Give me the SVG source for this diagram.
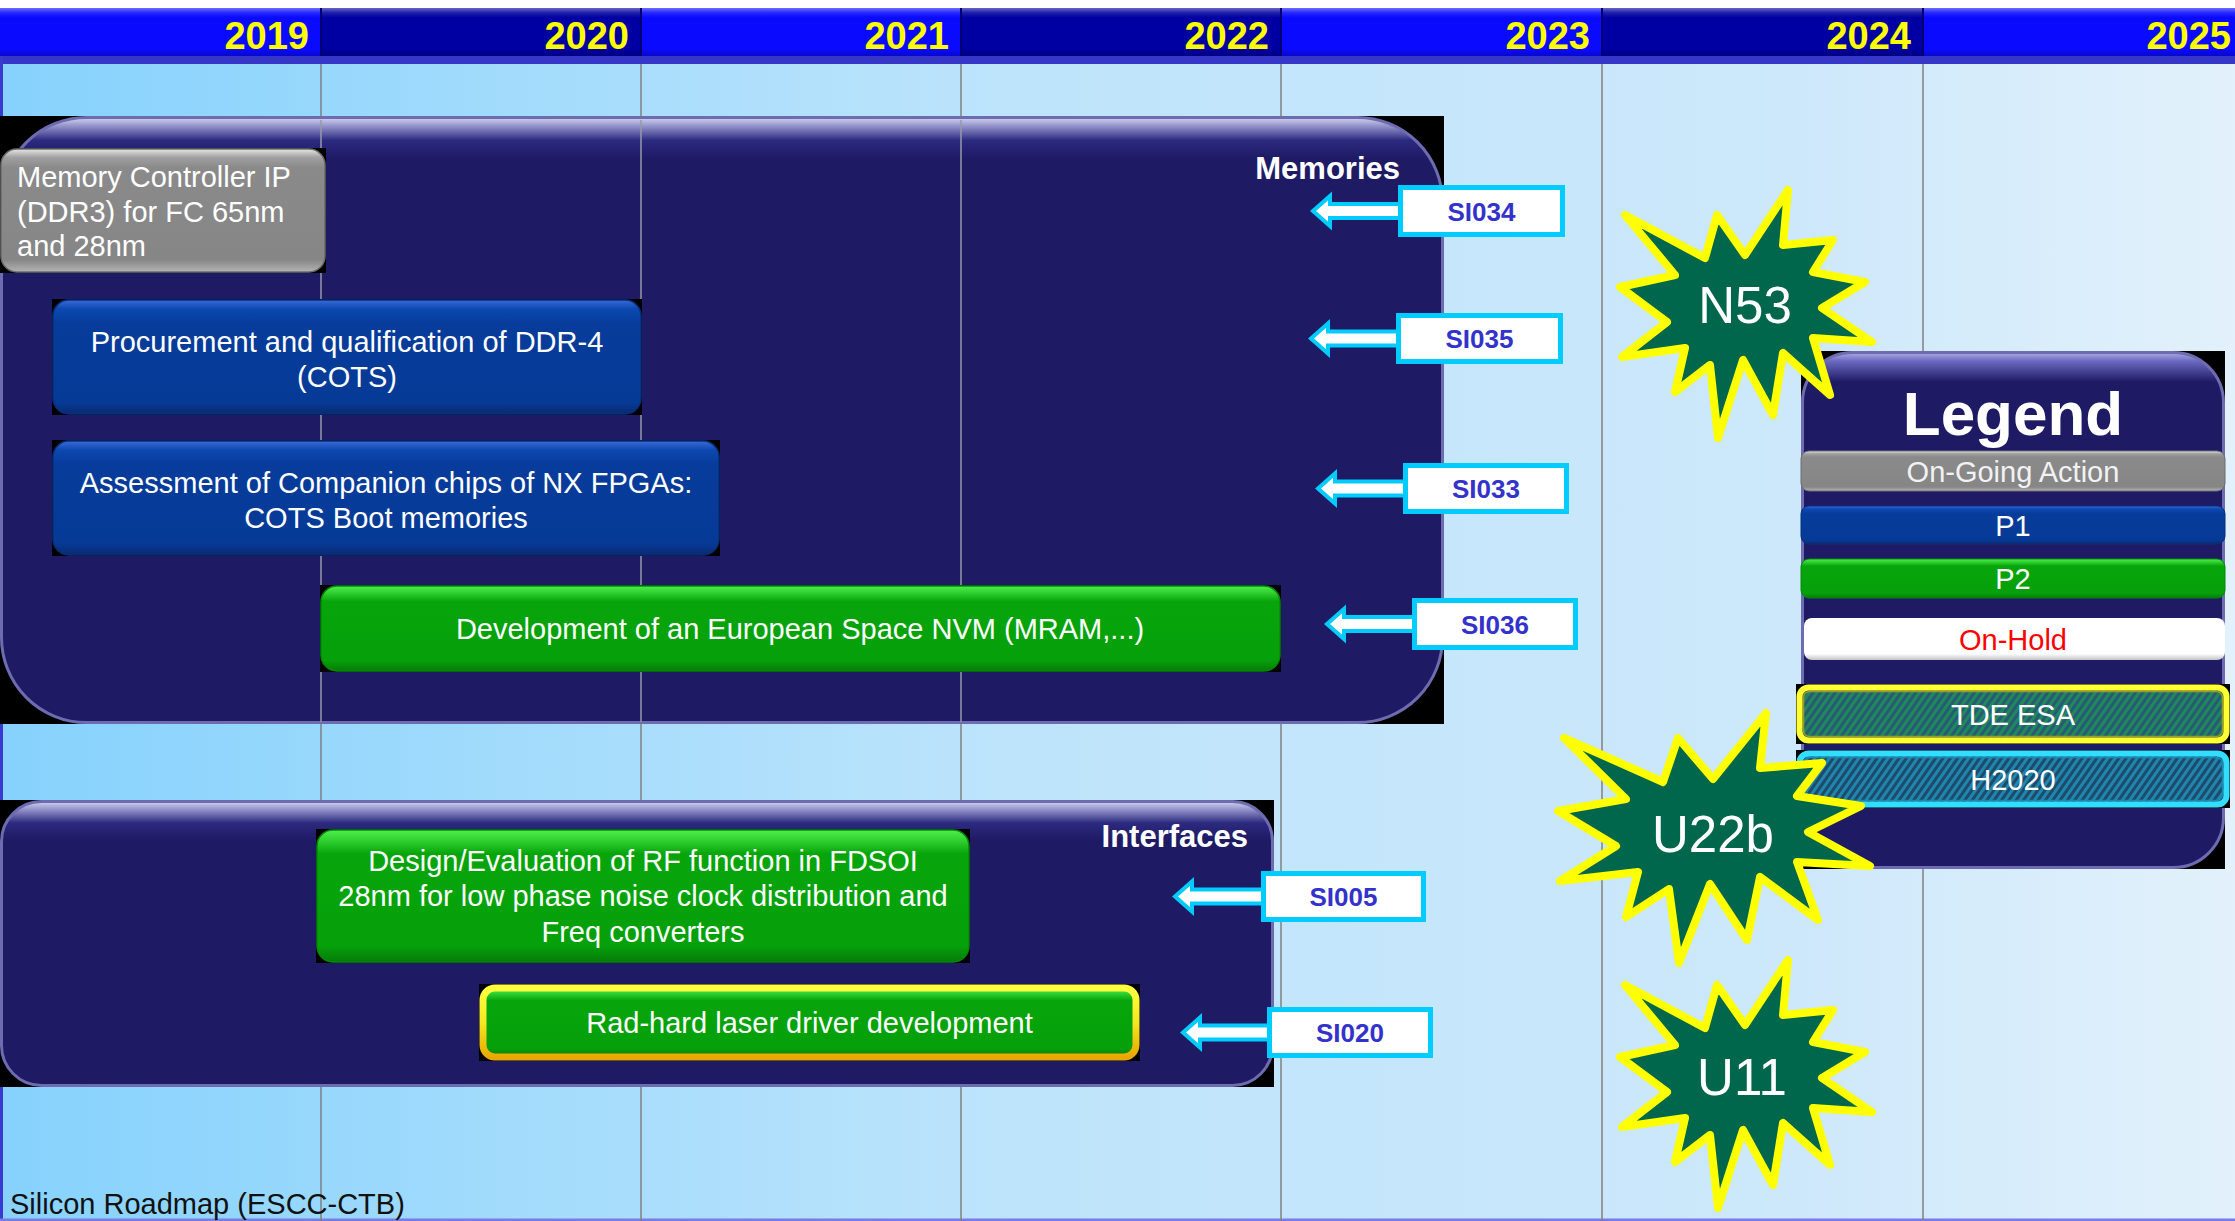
<svg xmlns="http://www.w3.org/2000/svg" width="2235" height="1221" viewBox="0 0 2235 1221">
<style>
  text { font-family: "Liberation Sans", Arial, Helvetica, sans-serif; }
  .yr { font-size: 38px; font-weight: bold; fill: #ffff00; text-anchor: end; }
  .grid { stroke: #808080; stroke-width: 1.5; }
  .gridIn { stroke: #9898aa; stroke-width: 1.5; }
  .bx { font-size: 29px; fill: #ffffff; }
  .c { text-anchor: middle; }
  .sect { font-size: 31px; font-weight: bold; fill: #ffffff; text-anchor: end; }
  .lbl { fill: #ffffff; stroke: #00ccff; stroke-width: 5; }
  .lblt { font-size: 26px; font-weight: bold; fill: #3333cc; text-anchor: middle; }
  .arr { fill: #ffffff; stroke: #00ccff; stroke-width: 4; stroke-linejoin: miter; }
  .star { fill: #00664c; stroke: #ffff00; stroke-width: 8; stroke-linejoin: round; }
  .startxt { font-size: 51px; fill: #ffffff; text-anchor: middle; }
  .bk { fill: #000000; }
  .panelEdge { stroke: #6e6cb0; stroke-width: 3; }
  .cellB { fill: #0a0aff; }
  .cellD { fill: #0000a2; }
  .leg { font-size: 29px; text-anchor: middle; }
</style>
<defs>
  <linearGradient id="bgGrad" x1="0" y1="0" x2="2235" y2="0" gradientUnits="userSpaceOnUse">
    <stop offset="0" stop-color="#86d2fd"/>
    <stop offset="0.45" stop-color="#bde4fb"/>
    <stop offset="0.8" stop-color="#cde8fb"/>
    <stop offset="1" stop-color="#e2f1fb"/>
  </linearGradient>
  <linearGradient id="hdrShade" x1="0" y1="8" x2="0" y2="56" gradientUnits="userSpaceOnUse">
    <stop offset="0" stop-color="#ffffff" stop-opacity="0.4"/>
    <stop offset="0.1" stop-color="#ffffff" stop-opacity="0.12"/>
    <stop offset="0.2" stop-color="#ffffff" stop-opacity="0"/>
    <stop offset="0.85" stop-color="#000000" stop-opacity="0"/>
    <stop offset="1" stop-color="#000000" stop-opacity="0.2"/>
  </linearGradient>
  <linearGradient id="memFill" x1="0" y1="116" x2="0" y2="724" gradientUnits="userSpaceOnUse">
    <stop offset="0" stop-color="#e0e0f4"/>
    <stop offset="0.015" stop-color="#9a9ad0"/>
    <stop offset="0.04" stop-color="#2c2a80"/>
    <stop offset="0.07" stop-color="#1e1a64"/>
    <stop offset="1" stop-color="#1e1a64"/>
  </linearGradient>
  <linearGradient id="ifFill" x1="0" y1="800" x2="0" y2="1087" gradientUnits="userSpaceOnUse">
    <stop offset="0" stop-color="#e0e0f4"/>
    <stop offset="0.03" stop-color="#9a9ad0"/>
    <stop offset="0.08" stop-color="#2c2a80"/>
    <stop offset="0.14" stop-color="#1e1a64"/>
    <stop offset="1" stop-color="#1e1a64"/>
  </linearGradient>
  <linearGradient id="legFill" x1="0" y1="351" x2="0" y2="869" gradientUnits="userSpaceOnUse">
    <stop offset="0" stop-color="#b8b8e8"/>
    <stop offset="0.02" stop-color="#6a68c0"/>
    <stop offset="0.06" stop-color="#1e1a64"/>
    <stop offset="1" stop-color="#1e1a64"/>
  </linearGradient>
  <linearGradient id="gGray" x1="0" y1="0" x2="0" y2="1">
    <stop offset="0" stop-color="#e6e6e6"/>
    <stop offset="0.07" stop-color="#a0a0a0"/>
    <stop offset="0.15" stop-color="#8a8a8a"/>
    <stop offset="0.9" stop-color="#868686"/>
    <stop offset="1" stop-color="#b4b4b4"/>
  </linearGradient>
  <linearGradient id="gBlue" x1="0" y1="0" x2="0" y2="1">
    <stop offset="0" stop-color="#3c6ad8"/>
    <stop offset="0.08" stop-color="#0c48b0"/>
    <stop offset="0.2" stop-color="#073c9c"/>
    <stop offset="0.9" stop-color="#063a96"/>
    <stop offset="1" stop-color="#0a2a70"/>
  </linearGradient>
  <linearGradient id="gGreen" x1="0" y1="0" x2="0" y2="1">
    <stop offset="0" stop-color="#4cf04c"/>
    <stop offset="0.08" stop-color="#30d030"/>
    <stop offset="0.18" stop-color="#07a50b"/>
    <stop offset="0.88" stop-color="#06a00a"/>
    <stop offset="1" stop-color="#057a08"/>
  </linearGradient>
  <linearGradient id="gWhite" x1="0" y1="0" x2="0" y2="1">
    <stop offset="0" stop-color="#ffffff"/>
    <stop offset="0.85" stop-color="#ffffff"/>
    <stop offset="1" stop-color="#c4c4c4"/>
  </linearGradient>
  <linearGradient id="gGold" x1="0" y1="0" x2="0" y2="1">
    <stop offset="0" stop-color="#ffff40"/>
    <stop offset="0.5" stop-color="#f4e820"/>
    <stop offset="1" stop-color="#e8a800"/>
  </linearGradient>
  <pattern id="hatchTde" width="6" height="6" patternUnits="userSpaceOnUse" patternTransform="rotate(35)">
    <rect width="6" height="6" fill="#285a78"/>
    <rect width="3" height="6" fill="#1e8a5a"/>
  </pattern>
  <pattern id="hatchH2020" width="6" height="6" patternUnits="userSpaceOnUse" patternTransform="rotate(35)">
    <rect width="6" height="6" fill="#1e4a6c"/>
    <rect width="3" height="6" fill="#1f86ae"/>
  </pattern>
  <path id="burst" d="M1788,190 L1783,245 L1833,240 L1813,272 L1865,282 L1822,308 L1872,342 L1813,338 L1830,395 L1783,353 L1773,415 L1743,360 L1718,438 L1710,365 L1675,392 L1685,348 L1622,357 L1667,322 L1620,287 L1675,275 L1625,215 L1705,258 L1717,215 L1745,255 Z"/>
</defs>

<!-- backdrop -->
<rect x="0" y="0" width="2235" height="1221" fill="#ffffff"/>
<rect x="0" y="64" width="2235" height="1157" fill="url(#bgGrad)"/>
<rect x="0" y="56" width="2235" height="8" fill="#3636c8"/>
<rect x="0" y="56" width="3" height="1165" fill="#3a3ad0"/>
<rect x="0" y="1218.5" width="2235" height="2.5" fill="#7a7ae8"/>

<!-- year header -->
<g id="header">
  <rect class="cellB" x="0" y="8" width="321" height="48"/>
  <rect class="cellD" x="321" y="8" width="320" height="48"/>
  <rect class="cellB" x="641" y="8" width="320" height="48"/>
  <rect class="cellD" x="961" y="8" width="320" height="48"/>
  <rect class="cellB" x="1281" y="8" width="321" height="48"/>
  <rect class="cellD" x="1602" y="8" width="321" height="48"/>
  <rect class="cellB" x="1923" y="8" width="312" height="48"/>
  <rect x="0" y="8" width="2235" height="48" fill="url(#hdrShade)"/>
  <g stroke="#000070" stroke-width="2">
    <line x1="321" y1="8" x2="321" y2="56"/>
    <line x1="641" y1="8" x2="641" y2="56"/>
    <line x1="961" y1="8" x2="961" y2="56"/>
    <line x1="1281" y1="8" x2="1281" y2="56"/>
    <line x1="1602" y1="8" x2="1602" y2="56"/>
    <line x1="1923" y1="8" x2="1923" y2="56"/>
  </g>
  <text class="yr" x="309" y="48.5">2019</text>
  <text class="yr" x="629" y="48.5">2020</text>
  <text class="yr" x="949" y="48.5">2021</text>
  <text class="yr" x="1269" y="48.5">2022</text>
  <text class="yr" x="1590" y="48.5">2023</text>
  <text class="yr" x="1911" y="48.5">2024</text>
  <text class="yr" x="2231" y="48.5">2025</text>
</g>

<!-- year grid -->
<g id="grid" class="grid">
  <line x1="321" y1="64" x2="321" y2="1221"/>
  <line x1="641" y1="64" x2="641" y2="1221"/>
  <line x1="961" y1="64" x2="961" y2="1221"/>
  <line x1="1281" y1="64" x2="1281" y2="1221"/>
  <line x1="1602" y1="64" x2="1602" y2="1221"/>
  <line x1="1923" y1="64" x2="1923" y2="1221"/>
</g>

<!-- Memories section -->
<g id="panel-memories">
  <rect class="bk" x="0" y="116" width="1444" height="608"/>
  <rect class="panelEdge" x="1.5" y="117.5" width="1441" height="605" rx="85" fill="url(#memFill)"/>
  <g class="gridIn">
    <line x1="321" y1="120" x2="321" y2="722"/>
    <line x1="641" y1="120" x2="641" y2="722"/>
    <line x1="961" y1="120" x2="961" y2="722"/>
  </g>
  <text class="sect" x="1400" y="179">Memories</text>
</g>

<!-- Interfaces section -->
<g id="panel-interfaces">
  <rect class="bk" x="0" y="800" width="1274" height="287"/>
  <rect class="panelEdge" x="1.5" y="801.5" width="1271" height="284" rx="40" fill="url(#ifFill)"/>
  <text class="sect" x="1248" y="847">Interfaces</text>
</g>

<!-- activity boxes -->
<g id="box-memctrl">
  <rect class="bk" x="0" y="148" width="326" height="125"/>
  <rect x="1" y="149" width="324" height="123" rx="16" fill="url(#gGray)" stroke="#6c6c6c" stroke-width="1.5"/>
  <text class="bx" x="17" y="187">Memory Controller IP</text>
  <text class="bx" x="17" y="222">(DDR3) for FC 65nm</text>
  <text class="bx" x="17" y="256">and 28nm</text>
</g>
<g id="box-ddr4">
  <rect class="bk" x="52" y="299" width="590" height="116"/>
  <rect x="53" y="300" width="588" height="114" rx="16" fill="url(#gBlue)" stroke="#06307c" stroke-width="1.5"/>
  <text class="bx c" x="347" y="352">Procurement and qualification of DDR-4</text>
  <text class="bx c" x="347" y="387">(COTS)</text>
</g>
<g id="box-boot">
  <rect class="bk" x="52" y="440" width="668" height="116"/>
  <rect x="53" y="441" width="666" height="114" rx="16" fill="url(#gBlue)" stroke="#06307c" stroke-width="1.5"/>
  <text class="bx c" x="386" y="493">Assessment of Companion chips of NX FPGAs:</text>
  <text class="bx c" x="386" y="528">COTS Boot memories</text>
</g>
<g id="box-nvm">
  <rect class="bk" x="320" y="585" width="961" height="87"/>
  <rect x="321" y="586" width="959" height="85" rx="16" fill="url(#gGreen)" stroke="#058a08" stroke-width="1.5"/>
  <text class="bx c" x="800" y="639">Development of an European Space NVM (MRAM,...)</text>
</g>
<g id="box-rf">
  <rect class="bk" x="316" y="829" width="654" height="134"/>
  <rect x="317" y="830" width="652" height="132" rx="16" fill="url(#gGreen)" stroke="#058a08" stroke-width="1.5"/>
  <text class="bx c" x="643" y="871">Design/Evaluation of RF function in FDSOI</text>
  <text class="bx c" x="643" y="906">28nm for low phase noise clock distribution and</text>
  <text class="bx c" x="643" y="942">Freq converters</text>
</g>
<g id="box-laser">
  <rect class="bk" x="479" y="984" width="661" height="77"/>
  <rect x="483" y="988" width="653" height="69" rx="12" fill="url(#gGreen)" stroke="url(#gGold)" stroke-width="7"/>
  <text class="bx c" x="809.5" y="1033">Rad-hard laser driver development</text>
</g>

<!-- reference arrows -->
<g id="connectors" class="arr">
  <path d="M1313,211 L1330,196 L1330,204 L1400,204 L1400,218 L1330,218 L1330,226 Z"/>
  <path d="M1311,338.5 L1328,323.5 L1328,331.5 L1398,331.5 L1398,345.5 L1328,345.5 L1328,353.5 Z"/>
  <path d="M1318,488.5 L1335,473.5 L1335,481.5 L1405,481.5 L1405,495.5 L1335,495.5 L1335,503.5 Z"/>
  <path d="M1327,624 L1344,609 L1344,617 L1414,617 L1414,631 L1344,631 L1344,639 Z"/>
  <path d="M1175,896.5 L1192,881.5 L1192,889.5 L1263,889.5 L1263,903.5 L1192,903.5 L1192,911.5 Z"/>
  <path d="M1183,1032.5 L1200,1017.5 L1200,1025.5 L1269,1025.5 L1269,1039.5 L1200,1039.5 L1200,1047.5 Z"/>
</g>

<!-- reference labels -->
<g id="ref-SI034">
  <rect class="lbl" x="1400.5" y="187.5" width="162" height="47"/>
  <text class="lblt" x="1481.5" y="220.5">SI034</text>
</g>
<g id="ref-SI035">
  <rect class="lbl" x="1398.5" y="315.5" width="162" height="46"/>
  <text class="lblt" x="1479.5" y="348">SI035</text>
</g>
<g id="ref-SI033">
  <rect class="lbl" x="1405.5" y="465.5" width="161" height="46"/>
  <text class="lblt" x="1486" y="498">SI033</text>
</g>
<g id="ref-SI036">
  <rect class="lbl" x="1414.5" y="600.5" width="161" height="47"/>
  <text class="lblt" x="1495" y="633.5">SI036</text>
</g>
<g id="ref-SI005">
  <rect class="lbl" x="1263.5" y="873.5" width="160" height="46"/>
  <text class="lblt" x="1343.5" y="906">SI005</text>
</g>
<g id="ref-SI020">
  <rect class="lbl" x="1269.5" y="1009.5" width="161" height="46"/>
  <text class="lblt" x="1350" y="1042">SI020</text>
</g>

<!-- legend -->
<g id="legend">
  <rect class="bk" x="1801" y="351" width="424" height="518"/>
  <rect class="panelEdge" x="1802.5" y="352.5" width="421" height="515" rx="50" fill="url(#legFill)"/>
  <text x="2013" y="435" font-size="62" font-weight="bold" fill="#ffffff" text-anchor="middle">Legend</text>
  <rect x="1801" y="451" width="424" height="40" rx="8" fill="url(#gGray)" stroke="#6c6c6c" stroke-width="1"/>
  <text class="leg" x="2013" y="481.5" fill="#f2f2f2">On-Going Action</text>
  <rect x="1801" y="506" width="424" height="38" rx="8" fill="url(#gBlue)" stroke="#06307c" stroke-width="1"/>
  <text class="leg" x="2013" y="535.5" fill="#ffffff">P1</text>
  <rect x="1801" y="559" width="424" height="39" rx="8" fill="url(#gGreen)" stroke="#058a08" stroke-width="1"/>
  <text class="leg" x="2013" y="588.5" fill="#ffffff">P2</text>
  <rect x="1804" y="618" width="421" height="42" rx="8" fill="url(#gWhite)"/>
  <text class="leg" x="2013" y="650" fill="#ff0000">On-Hold</text>
  <rect class="bk" x="1796" y="684" width="434" height="60"/>
  <rect x="1799.5" y="687.5" width="427" height="53" rx="9" fill="url(#hatchTde)" stroke="#ffff33" stroke-width="6"/>
  <rect x="1803.5" y="691.5" width="419" height="45" rx="6" fill="none" stroke="#a89a10" stroke-width="1.5"/>
  <text class="leg" x="2013" y="725" fill="#ffffff">TDE ESA</text>
  <rect class="bk" x="1796" y="750" width="434" height="58"/>
  <rect x="1799.5" y="753.5" width="427" height="51" rx="9" fill="url(#hatchH2020)" stroke="#33ddff" stroke-width="6"/>
  <rect x="1803.5" y="757.5" width="419" height="43" rx="6" fill="none" stroke="#1a8ab0" stroke-width="1.5"/>
  <text class="leg" x="2013" y="789.5" fill="#ffffff">H2020</text>
</g>

<!-- technology badges -->
<g id="badge-N53">
  <use href="#burst" class="star"/>
  <text class="startxt" x="1745" y="323">N53</text>
</g>
<g id="badge-U22b">
  <path class="star" d="M1766,713 L1760,768 L1822,763 L1797,796 L1861,806 L1808,832 L1870,866 L1797,862 L1818,920 L1760,877 L1747,940 L1710,884 L1679,963 L1669,889 L1626,917 L1638,872 L1560,881 L1616,846 L1558,811 L1626,799 L1564,738 L1663,782 L1678,738 L1713,779 Z"/>
  <text class="startxt" x="1713" y="852" font-size="52">U22b</text>
</g>
<g id="badge-U11">
  <use href="#burst" class="star" transform="translate(0,770)"/>
  <text class="startxt" x="1742" y="1095">U11</text>
</g>

<text x="10" y="1214" font-size="29" fill="#111111">Silicon Roadmap (ESCC-CTB)</text>
</svg>
